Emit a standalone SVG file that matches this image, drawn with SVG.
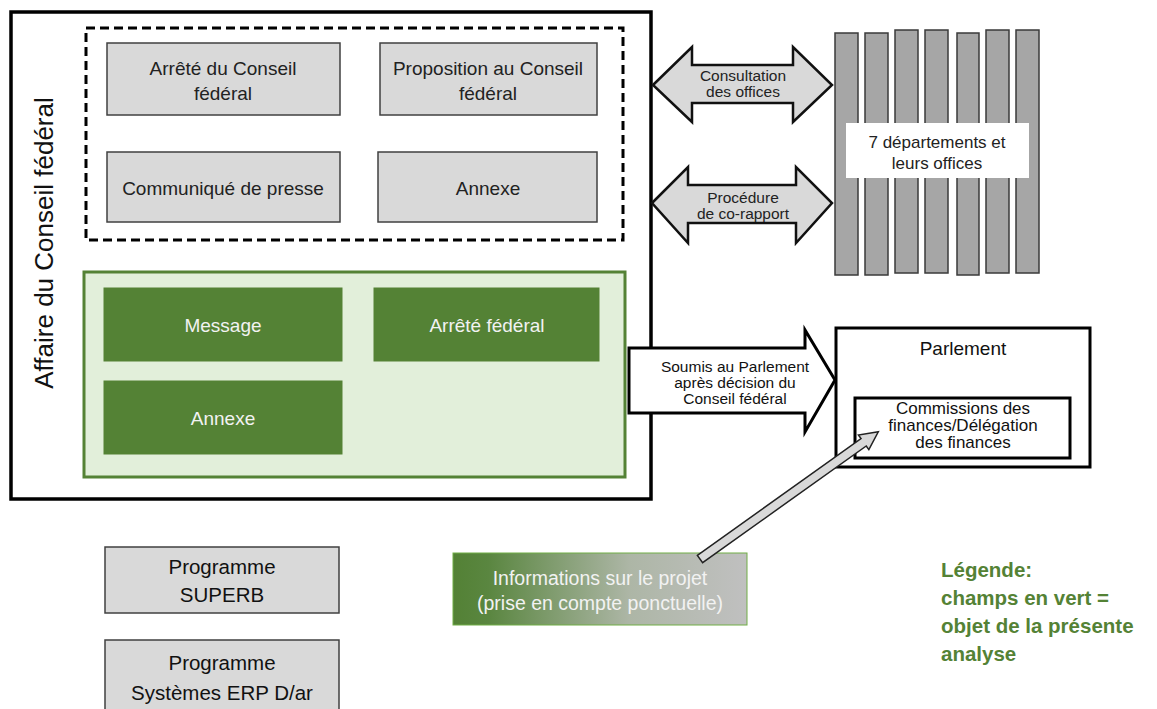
<svg xmlns="http://www.w3.org/2000/svg" width="1157" height="709" viewBox="0 0 1157 709">
<style>
text{font-family:"Liberation Sans",Arial,sans-serif;text-anchor:middle}
.gbox{fill:#d9d9d9;stroke:#404040;stroke-width:1.5}
.green{fill:#548235;stroke:#548235;stroke-width:1}
.gt{font-size:19px;fill:#222}
.wt{font-size:19px;fill:#f2f2f2}
.bar{fill:#a6a6a6;stroke:#3a3a3a;stroke-width:1.5}
.arr{fill:#d9d9d9;stroke:#111;stroke-width:2.5;stroke-linejoin:miter}
.at{font-size:15.5px;fill:#222}
.leg{font-size:20.5px;font-weight:bold;fill:#548235;text-anchor:start}
.ct{font-size:17px;fill:#111}
.st{font-size:15.5px;fill:#111}
</style>
<defs>
<linearGradient id="infoGrad" x1="0" y1="0" x2="1" y2="0">
<stop offset="0" stop-color="#538135"/>
<stop offset="0.12" stop-color="#5a8640"/>
<stop offset="0.6" stop-color="#adb6a6"/>
<stop offset="1" stop-color="#c0c0c0"/>
</linearGradient>
</defs>
<rect width="1157" height="709" fill="#fff"/>

<g id="affaire">
<rect x="11" y="12" width="640" height="487" fill="#fff" stroke="#000" stroke-width="3.5"/>
<text transform="translate(53,243) rotate(-90)" font-size="26" fill="#111">Affaire du Conseil fédéral</text>
</g>

<g id="dashed-group">
<rect x="86" y="28" width="537" height="212" fill="none" stroke="#000" stroke-width="3" stroke-dasharray="9 5"/>
</g>

<g id="arrete-cf">
<rect class="gbox" x="107" y="43" width="233" height="72"/>
<text class="gt" x="223" y="75">Arrêté du Conseil</text>
<text class="gt" x="223" y="100">fédéral</text>
</g>
<g id="proposition">
<rect class="gbox" x="380" y="43" width="217" height="72"/>
<text class="gt" x="488" y="75">Proposition au Conseil</text>
<text class="gt" x="488" y="100">fédéral</text>
</g>
<g id="communique">
<rect class="gbox" x="107" y="152" width="233" height="70"/>
<text class="gt" x="223" y="195">Communiqué de presse</text>
</g>
<g id="annexe-gris">
<rect class="gbox" x="378" y="152" width="219" height="70"/>
<text class="gt" x="488" y="195">Annexe</text>
</g>

<g id="green-group">
<rect x="84" y="272" width="541" height="205" fill="#e2efda" stroke="#548235" stroke-width="3"/>
</g>
<g id="message">
<rect class="green" x="104" y="288" width="238" height="73"/>
<text class="wt" x="223" y="332">Message</text>
</g>
<g id="arrete-federal">
<rect class="green" x="374" y="288" width="225" height="73"/>
<text class="wt" x="487" y="332">Arrêté fédéral</text>
</g>
<g id="annexe-vert">
<rect class="green" x="104" y="381" width="238" height="73"/>
<text class="wt" x="223" y="425">Annexe</text>
</g>

<g id="departements">
<rect class="bar" x="835" y="33" width="23" height="242"/>
<rect class="bar" x="865" y="33" width="23" height="242"/>
<rect class="bar" x="895" y="30" width="23" height="243"/>
<rect class="bar" x="925" y="30" width="23" height="243"/>
<rect class="bar" x="957" y="33" width="22" height="242"/>
<rect class="bar" x="986" y="30" width="23" height="243"/>
<rect class="bar" x="1016" y="30" width="23" height="243"/>
<rect x="846" y="123" width="183" height="55" fill="#fff"/>
<text x="937" y="148" font-size="17" fill="#222">7 départements et</text>
<text x="937" y="169" font-size="17" fill="#222">leurs offices</text>
</g>

<g id="parlement">
<rect x="836" y="328" width="254" height="139" fill="#fff" stroke="#000" stroke-width="3"/>
<text x="963" y="355" font-size="19" fill="#111">Parlement</text>
</g>
<g id="commissions">
<rect x="855" y="398" width="215" height="60" fill="#fff" stroke="#000" stroke-width="3"/>
<text class="ct" x="963" y="414">Commissions des</text>
<text class="ct" x="963" y="431">finances/Délégation</text>
<text class="ct" x="963" y="448">des finances</text>
</g>

<g id="superb">
<rect class="gbox" x="105" y="547" width="234" height="66"/>
<text x="222" y="574" font-size="20.5" fill="#111">Programme</text>
<text x="222" y="602" font-size="20.5" fill="#111">SUPERB</text>
</g>
<g id="erp">
<rect class="gbox" x="105" y="640" width="234" height="75"/>
<text x="222" y="670" font-size="20.5" fill="#111">Programme</text>
<text x="222" y="700" font-size="20.5" fill="#111">Systèmes ERP D/ar</text>
</g>

<g id="informations">
<rect x="453" y="553" width="294" height="72" fill="url(#infoGrad)" stroke="#70ad47" stroke-width="1"/>
<text x="600" y="585" font-size="19.5" fill="#f2f2f2">Informations sur le projet</text>
<text x="600" y="610" font-size="19.5" fill="#f2f2f2">(prise en compte ponctuelle)</text>
</g>

<g id="legende">
<text class="leg" x="941" y="577">Légende:</text>
<text class="leg" x="941" y="605">champs en vert =</text>
<text class="leg" x="941" y="633">objet de la présente</text>
<text class="leg" x="941" y="661">analyse</text>
</g>

<g id="connectors">
<polygon class="arr" points="653,85 692,47 692,65 793,65 793,47 832,85 793,122 793,103 692,103 692,122"/>
<text class="at" x="743" y="81">Consultation</text>
<text class="at" x="743" y="97">des offices</text>
<polygon class="arr" points="652,203 688,167 688,185 796,185 796,167 832,203 796,243 796,223 688,223 688,243"/>
<text class="at" x="743" y="203">Procédure</text>
<text class="at" x="743" y="219">de co-rapport</text>
<polygon points="629,348 805,348 805,330 835,380 805,432 805,413 629,413" fill="#fff" stroke="#000" stroke-width="3"/>
<text class="st" x="735" y="372">Soumis au Parlement</text>
<text class="st" x="735" y="388">après décision du</text>
<text class="st" x="735" y="404">Conseil fédéral</text>
<polygon transform="translate(700,559) rotate(-35.5)" points="0,-4.5 201,-4.5 201,-9 219,0 201,9 201,4.5 0,4.5" fill="#d9d9d9" stroke="#222" stroke-width="1.5"/>
</g>
</svg>
